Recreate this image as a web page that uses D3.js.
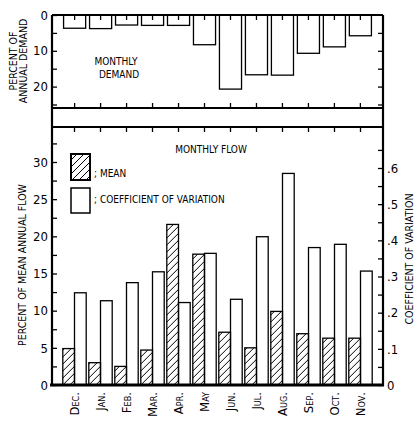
<!DOCTYPE html>
<html>
<head>
<meta charset="utf-8">
<script src="https://cdn.jsdelivr.net/npm/d3@7"></script>
<style>
  body { margin: 0; background: #fff; }
  text { font-family: "DejaVu Sans Condensed", "Liberation Sans Narrow", sans-serif; fill: #000; }
</style>
</head>
<body>
<div id="chart-area"></div>
<script>
// data
const months = ["Dec.", "Jan.", "Feb.", "Mar.", "Apr.", "May", "Jun.", "Jul.", "Aug.", "Sep.", "Oct.", "Nov."]
const demand = [3.7, 3.8, 2.8, 2.9, 2.9, 8.3, 20.7, 16.7, 16.8, 10.7, 8.9, 5.8]
const meanFlow = [4.9, 3.0, 2.5, 4.7, 21.6, 17.6, 7.1, 5.0, 9.9, 6.9, 6.3, 6.3]
const cvFlow = [0.255, 0.233, 0.283, 0.313, 0.228, 0.364, 0.237, 0.41, 0.585, 0.38, 0.389, 0.315]
const demandTicks = [0, 5, 10, 15, 20, 25]
const flowTicks = d3.range(0, 35, 2.5)
const cvTicks = d3.range(0, 0.7, 0.05)

const W = 417, H = 422
const LEFT = 52, RIGHT = 383
const TOP1 = 15, BOT1 = 108, TOP2 = 127, BOT2 = 385

const svg = d3.select("#chart-area").append("svg")
  .attr("width", W)
  .attr("height", H)

// hatch pattern for the mean bars
const defs = svg.append("defs")
defs.append("pattern")
  .attr("id", "hatch")
  .attr("patternUnits", "userSpaceOnUse")
  .attr("width", 7)
  .attr("height", 7)
  .append("path")
    .attr("d", "M-1,1 l2,-2 M0,7 l7,-7 M6,8 l2,-2")
    .attr("stroke", "#000")
    .attr("stroke-width", 1)

const x = d3.scaleBand()
  .domain(months)
  .range([61.5, 373.5])
  .paddingInner(0.1)
  .paddingOuter(0.05)

const xTop = d3.scaleBand()
  .domain(months)
  .range([61.5, 373.5])
  .paddingInner(0.15)
  .paddingOuter(0.08)

const x1 = d3.scaleBand()
  .domain(["mean", "cv"])
  .range([0, x.bandwidth()])

const yTop = d3.scaleLinear().domain([0, 10]).range([TOP1, 50.8])
const yL = d3.scaleLinear().domain([0, 30]).range([BOT2, 162])
const yR = d3.scaleLinear().domain([0, 0.6]).range([BOT2, 168])

// ---- top panel: monthly demand
svg.append("g").selectAll("rect")
  .data(demand)
  .enter().append("rect")
    .attr("x", (d, i) => xTop(months[i]))
    .attr("y", yTop(0))
    .attr("width", xTop.bandwidth())
    .attr("height", d => yTop(d) - yTop(0))
    .attr("fill", "none")
    .attr("stroke", "#000")
    .attr("stroke-width", 1.3)

// ---- bottom panel: flow bars
const groups = svg.append("g").selectAll("g")
  .data(months)
  .enter().append("g")
    .attr("transform", d => `translate(${x(d)},0)`)

groups.append("rect")
  .attr("x", x1("mean"))
  .attr("y", (d, i) => yL(meanFlow[i]))
  .attr("width", x1.bandwidth())
  .attr("height", (d, i) => yL(0) - yL(meanFlow[i]))
  .attr("fill", "url(#hatch)")
  .attr("stroke", "#000")
  .attr("stroke-width", 1.3)

groups.append("rect")
  .attr("x", x1("cv"))
  .attr("y", (d, i) => yR(cvFlow[i]))
  .attr("width", x1.bandwidth())
  .attr("height", (d, i) => yR(0) - yR(cvFlow[i]))
  .attr("fill", "none")
  .attr("stroke", "#000")
  .attr("stroke-width", 1.3)

// ---- axes
function styleAxis(sel) {
  sel.select(".domain").remove()
  sel.selectAll("line").attr("stroke", "#000").attr("stroke-width", 1.3)
  sel.selectAll("text").style("font-size", "13px")
}

svg.append("g")
  .attr("transform", `translate(${LEFT},0)`)
  .call(d3.axisLeft(yTop).tickValues(demandTicks).tickSize(-5).tickPadding(4)
    .tickFormat(d => d % 10 === 0 ? d : ""))
  .call(styleAxis)

svg.append("g")
  .attr("transform", `translate(${RIGHT},0)`)
  .call(d3.axisRight(yTop).tickValues(demandTicks.slice(1)).tickSize(-5).tickFormat(""))
  .call(styleAxis)

svg.append("g")
  .attr("transform", `translate(${LEFT},0)`)
  .call(d3.axisLeft(yL).tickValues(flowTicks).tickSize(-5).tickPadding(4)
    .tickFormat(d => d % 5 === 0 ? d : ""))
  .call(styleAxis)

svg.append("g")
  .attr("transform", `translate(${RIGHT},0)`)
  .call(d3.axisRight(yR).tickValues(cvTicks).tickSize(-5).tickPadding(4)
    .tickFormat(d => Math.round(d * 100) % 10 === 0 ? (d === 0 ? "0" : d3.format(".1f")(d).replace(/^0/, "")) : ""))
  .call(styleAxis)

// month ticks on the horizontal panel edges
const monthTick = d3.axisBottom(xTop).tickSize(-5).tickFormat("")
svg.append("g").attr("transform", `translate(0,${BOT1})`).call(monthTick).call(styleAxis)
svg.append("g").attr("transform", `translate(0,${TOP1})`).call(d3.axisTop(xTop).tickSize(-5).tickFormat("")).call(styleAxis)
svg.append("g").attr("transform", `translate(0,${TOP2})`).call(d3.axisTop(x).tickSize(-5).tickFormat("")).call(styleAxis)

// frame
const frame = svg.append("g").attr("stroke", "#000").attr("fill", "none")
frame.append("line").attr("x1", LEFT).attr("x2", LEFT).attr("y1", TOP1).attr("y2", BOT2 + 1).attr("stroke-width", 2.2)
frame.append("line").attr("x1", RIGHT).attr("x2", RIGHT).attr("y1", TOP1).attr("y2", BOT2 + 1).attr("stroke-width", 2.2)
frame.append("line").attr("x1", LEFT).attr("x2", RIGHT).attr("y1", TOP1).attr("y2", TOP1).attr("stroke-width", 2)
frame.append("line").attr("x1", LEFT).attr("x2", RIGHT).attr("y1", BOT1).attr("y2", BOT1).attr("stroke-width", 2)
frame.append("line").attr("x1", LEFT).attr("x2", RIGHT).attr("y1", TOP2).attr("y2", TOP2).attr("stroke-width", 2)
frame.append("line").attr("x1", LEFT - 2).attr("x2", RIGHT + 1).attr("y1", BOT2).attr("y2", BOT2).attr("stroke-width", 3)

// month labels
svg.append("g").selectAll("text")
  .data(months)
  .enter().append("text")
    .attr("transform", d => `translate(${x(d) + x.bandwidth() / 2 + 4},392) rotate(-90)`)
    .attr("text-anchor", "end")
    .style("font-size", "13px")
    .style("font-variant", "small-caps")
    .text(d => d)

// axis titles
const title = (tx, ty, rot, str) => svg.append("text")
  .attr("transform", `translate(${tx},${ty}) rotate(${rot})`)
  .attr("text-anchor", "middle")
  .style("font-size", "10.5px")
  .text(str)

title(17, 61, -90, "PERCENT OF")
title(27, 61, -90, "ANNUAL DEMAND")
title(26, 265, -90, "PERCENT OF MEAN ANNUAL FLOW")
title(413, 259, -90, "COEFFICIENT OF VARIATION")

// panel notes
svg.append("text").attr("x", 116).attr("y", 65).attr("text-anchor", "middle").style("font-size", "10px").text("MONTHLY")
svg.append("text").attr("x", 119).attr("y", 78).attr("text-anchor", "middle").style("font-size", "10px").text("DEMAND")
svg.append("text").attr("x", 211).attr("y", 153).attr("text-anchor", "middle").style("font-size", "10px").text("MONTHLY FLOW")

// legend
const legend = svg.append("g")
legend.append("rect").attr("x", 71).attr("y", 154).attr("width", 19).attr("height", 26)
  .attr("fill", "url(#hatch)").attr("stroke", "#000").attr("stroke-width", 2)
legend.append("rect").attr("x", 71).attr("y", 188).attr("width", 19).attr("height", 25)
  .attr("fill", "none").attr("stroke", "#000").attr("stroke-width", 1.5)
legend.append("text").attr("x", 94).attr("y", 177).style("font-size", "10px").text("; MEAN")
legend.append("text").attr("x", 94).attr("y", 203).style("font-size", "10px").text("; COEFFICIENT OF VARIATION")
</script>
</body>
</html>
